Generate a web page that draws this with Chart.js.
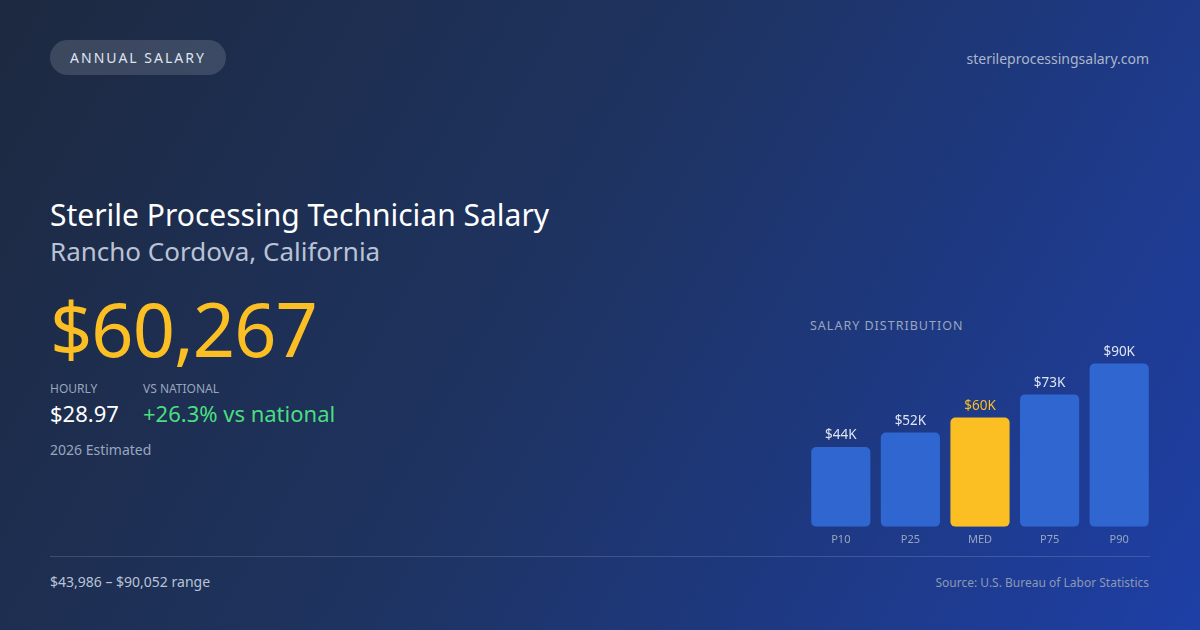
<!DOCTYPE html>
<html><head><meta charset="utf-8">
<script src="https://cdn.jsdelivr.net/npm/chart.js@4"></script>
<style>
body{margin:0;width:1200px;height:630px;overflow:hidden;font-family:"Noto Sans",sans-serif;
background:linear-gradient(120deg,#1d2940 0%,#1e3360 45%,#1e3fa6 100%);color:#fff;position:relative}
.pill{position:absolute;left:50px;top:40px;height:35px;width:176px;border-radius:18px;background:rgba(255,255,255,0.14);
font-size:14px;letter-spacing:2px;color:#dfe5f0;line-height:35px;text-align:center}
.site{position:absolute;right:51px;top:49px;font-size:14px;color:#aab6cc}
.t1{position:absolute;left:50px;top:194px;font-size:30px}
.t2{position:absolute;left:50px;top:233px;font-size:26px;color:#b9c3d6}
.big{position:absolute;left:50px;top:279px;font-size:74px;color:#fbbf24;letter-spacing:-1px;line-height:100px}
.lab{position:absolute;top:380px;font-size:12px;color:#99a6be}
.val{position:absolute;top:398px;font-size:22px}
.est{position:absolute;left:50px;top:440px;font-size:14px;color:#99a6be}
.line{position:absolute;left:50px;right:50px;top:556px;height:1px;background:rgba(255,255,255,0.15)}
.range{position:absolute;left:50px;top:572px;font-size:14px;color:#b9c3d6}
.src{position:absolute;right:51px;top:574px;font-size:12px;color:#8c99b3}
.dist{position:absolute;left:810px;top:317px;font-size:12.5px;letter-spacing:1px;color:#99a6be}
#wrap{position:absolute;left:806px;top:340px;width:348px;height:204px}
</style></head><body>
<div class="pill">ANNUAL SALARY</div>
<div class="site">sterileprocessingsalary.com</div>
<div class="t1">Sterile Processing Technician Salary</div>
<div class="t2">Rancho Cordova, California</div>
<div class="big">$60,267</div>
<div class="lab" style="left:50px">HOURLY</div>
<div class="lab" style="left:143px">VS NATIONAL</div>
<div class="val" style="left:50px">$28.97</div>
<div class="val" style="left:143px;color:#4ade80">+26.3% vs national</div>
<div class="est">2026 Estimated</div>
<div class="dist">SALARY DISTRIBUTION</div>
<div id="wrap"><canvas id="c"></canvas></div>
<div class="line"></div>
<div class="range">$43,986 – $90,052 range</div>
<div class="src">Source: U.S. Bureau of Labor Statistics</div>
<script>
const categories = ['P10', 'P25', 'MED', 'P75', 'P90'];
const salaries = [43986, 52000, 60267, 73000, 90052];
const valueLabels = ['$44K', '$52K', '$60K', '$73K', '$90K'];

const topLabels = {
  id: 'topLabels',
  afterDatasetsDraw(chart) {
    const { ctx } = chart;
    chart.getDatasetMeta(0).data.forEach((bar, i) => {
      ctx.save();
      ctx.font = '13.5px "Noto Sans"';
      ctx.fillStyle = i === 2 ? '#fbbf24' : '#dfe5f0';
      ctx.textAlign = 'center';
      ctx.textBaseline = 'bottom';
      ctx.fillText(valueLabels[i], bar.x, bar.y - 5);
      ctx.restore();
    });
  }
};

new Chart(document.getElementById('c'), {
  type: 'bar',
  data: {
    labels: categories,
    datasets: [{
      data: salaries,
      backgroundColor: salaries.map((v, i) => i === 2 ? '#fbbf24' : '#3066d0'),
      borderRadius: 5,
      borderSkipped: false,
      categoryPercentage: 0.85,
      barPercentage: 1
    }]
  },
  options: {
    responsive: true,
    maintainAspectRatio: false,
    animation: false,
    layout: { padding: 0 },
    scales: {
      y: { display: false, min: 0, max: 103000 },
      x: {
        grid: { display: false },
        border: { display: false },
        ticks: { color: '#99a6be', font: { size: 11, family: 'Noto Sans' }, padding: -2 }
      }
    },
    plugins: { legend: { display: false }, tooltip: { enabled: false } }
  },
  plugins: [topLabels]
});
</script>
</body></html>
